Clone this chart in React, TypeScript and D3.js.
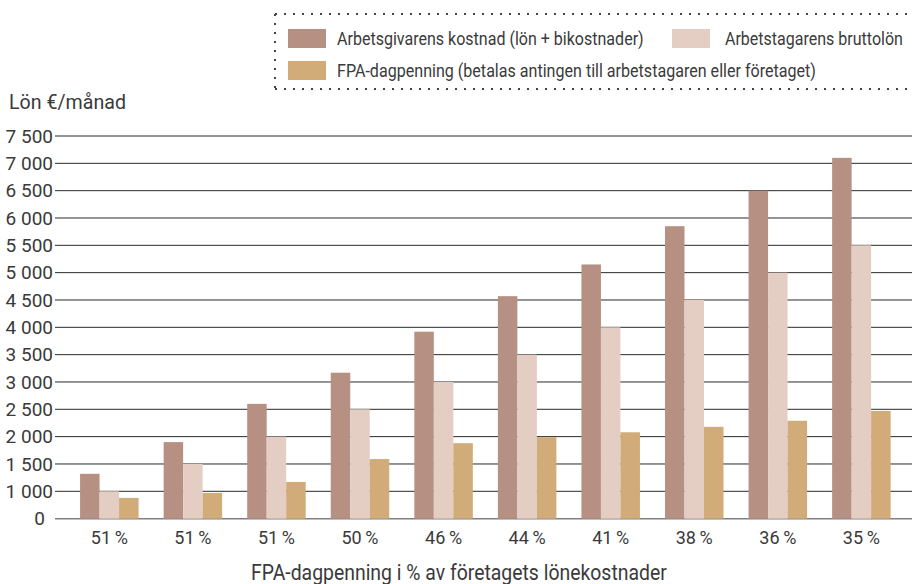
import React, { useEffect, useRef } from 'react';
import * as d3 from 'd3';

// x categories: FPA-dagpenning as % of the company's wage costs
const categories = ['51\u2009%', '51\u2009%', '51\u2009%', '50\u2009%', '46\u2009%', '44\u2009%', '41\u2009%', '38\u2009%', '36\u2009%', '35\u2009%'];

// €/month
const employerCost = [1320, 1900, 2600, 3170, 3920, 4570, 5150, 5850, 6500, 7100];
const grossSalary = [1000, 1500, 2000, 2500, 3000, 3500, 4000, 4500, 5000, 5500];
const fpaAllowance = [760, 940, 1170, 1590, 1880, 1990, 2080, 2180, 2290, 2470];

const yTicks = [0, 1000, 1500, 2000, 2500, 3000, 3500, 4000, 4500, 5000, 5500, 6000, 6500, 7000, 7500];

const seriesNames = [
  'Arbetsgivarens kostnad (lön + bikostnader)',
  'Arbetstagarens bruttolön',
  'FPA-dagpenning (betalas antingen till arbetstagaren eller företaget)'
];
const colors = ['#b69183', '#e4cec4', '#d1ab78'];

const FONT = 'Roboto, "Liberation Sans", sans-serif';
const TEXT = '#3a3a3a';

// squeeze a text horizontally to the width it has in the original (condensed face)
const fitText = (sel, x, y, w) => {
  const node = sel.node();
  const len = node.getComputedTextLength();
  const k = len > 0 ? w / len : 1;
  sel.attr('x', 0).attr('y', 0).attr('transform', `translate(${x},${y}) scale(${k},1)`);
};

const App = () => {
  const chartRef = useRef<SVGSVGElement>(null);

  useEffect(() => {
    const svg = d3.select(chartRef.current);
    svg.selectAll('*').remove();

    const width = 914;
    const left = 55;
    const right = 912;

    // axis is broken: 0..1000 takes the same room as one 500 step
    const y = d3.scaleLinear()
      .domain([0, 1000, 7500])
      .range([518.7, 491.3, 136]);

    const x = d3.scaleBand()
      .domain(categories.map((_, i) => String(i)))
      .range([left, 915.7])
      .paddingInner(0.3)
      .paddingOuter(0.3);

    const xs = d3.scaleBand()
      .domain(['0', '1', '2'])
      .range([0, x.bandwidth()]);

    const fmt = d3.formatLocale({ decimal: ',', thousands: ' ', grouping: [3], currency: ['', '€'] }).format(',d');

    const g = svg.append('g')
      .attr('font-family', FONT)
      .attr('fill', TEXT);

    // gridlines
    g.selectAll('.grid')
      .data(yTicks)
      .enter().append('line')
      .attr('x1', left)
      .attr('x2', right)
      .attr('y1', d => y(d))
      .attr('y2', d => y(d))
      .attr('stroke', d => d === 0 ? '#808080' : '#2a2a2a')
      .attr('stroke-width', d => d === 0 ? 1.5 : 1);

    g.selectAll('.ytick')
      .data(yTicks)
      .enter().append('text')
      .attr('x', left - 2)
      .attr('dx', d => d === 0 ? -8 : 0)
      .attr('y', d => y(d))
      .attr('dy', '0.35em')
      .attr('text-anchor', 'end')
      .attr('font-size', 19)
      .text(d => fmt(d));

    const yTitle = g.append('text')
      .attr('font-size', 20)
      .text('Lön €/månad');
    fitText(yTitle, 9, 109, 117);

    // bars
    const series = [employerCost, grossSalary, fpaAllowance];
    series.forEach((vals, s) => {
      g.selectAll(`.bar${s}`)
        .data(vals)
        .enter().append('rect')
        .attr('x', (d, i) => (x(String(i)) as number) + (xs(String(s)) as number))
        .attr('y', d => y(d))
        .attr('width', xs.bandwidth())
        .attr('height', d => y(0) - y(d))
        .attr('fill', colors[s]);
    });

    // x labels
    g.selectAll('.xtick')
      .data(categories)
      .enter().append('text')
      .attr('x', (d, i) => (x(String(i)) as number) + x.bandwidth() / 2)
      .attr('y', 544)
      .attr('text-anchor', 'middle')
      .attr('font-size', 18)
      .text(d => d);

    const xTitle = g.append('text')
      .attr('font-size', 22)
      .text('FPA-dagpenning i % av företagets lönekostnader');
    fitText(xTitle, 251, 580, 416);

    // legend
    const lg = g.append('g');
    const edges = [
      [275, 14, width, 14],
      [275, 89, width, 89],
      [275, 14, 275, 89]
    ];
    edges.forEach(([x1, y1, x2, y2]) => {
      lg.append('line')
        .attr('x1', x1).attr('y1', y1).attr('x2', x2).attr('y2', y2)
        .attr('stroke', '#444')
        .attr('stroke-width', 2)
        .attr('stroke-dasharray', '2 7');
    });

    const items = [
      { name: seriesNames[0], color: colors[0], x: 288, y: 38.5, tx: 337, w: 307 },
      { name: seriesNames[1], color: colors[1], x: 672, y: 38.5, tx: 725, w: 178 },
      { name: seriesNames[2], color: colors[2], x: 288, y: 70.5, tx: 337, w: 479 }
    ];
    items.forEach(it => {
      lg.append('rect')
        .attr('x', it.x)
        .attr('y', it.y - 9.5)
        .attr('width', 38)
        .attr('height', 19)
        .attr('fill', it.color);
      const t = lg.append('text')
        .attr('dy', '0.35em')
        .attr('font-size', 18.5)
        .text(it.name);
      fitText(t, it.tx, it.y, it.w);
    });
  }, []);

  return (
    <svg
      ref={chartRef}
      width={914}
      height={584}
      style={{ position: 'absolute', left: 0, top: 0, background: '#fff' }}
    />
  );
};

export default App;
